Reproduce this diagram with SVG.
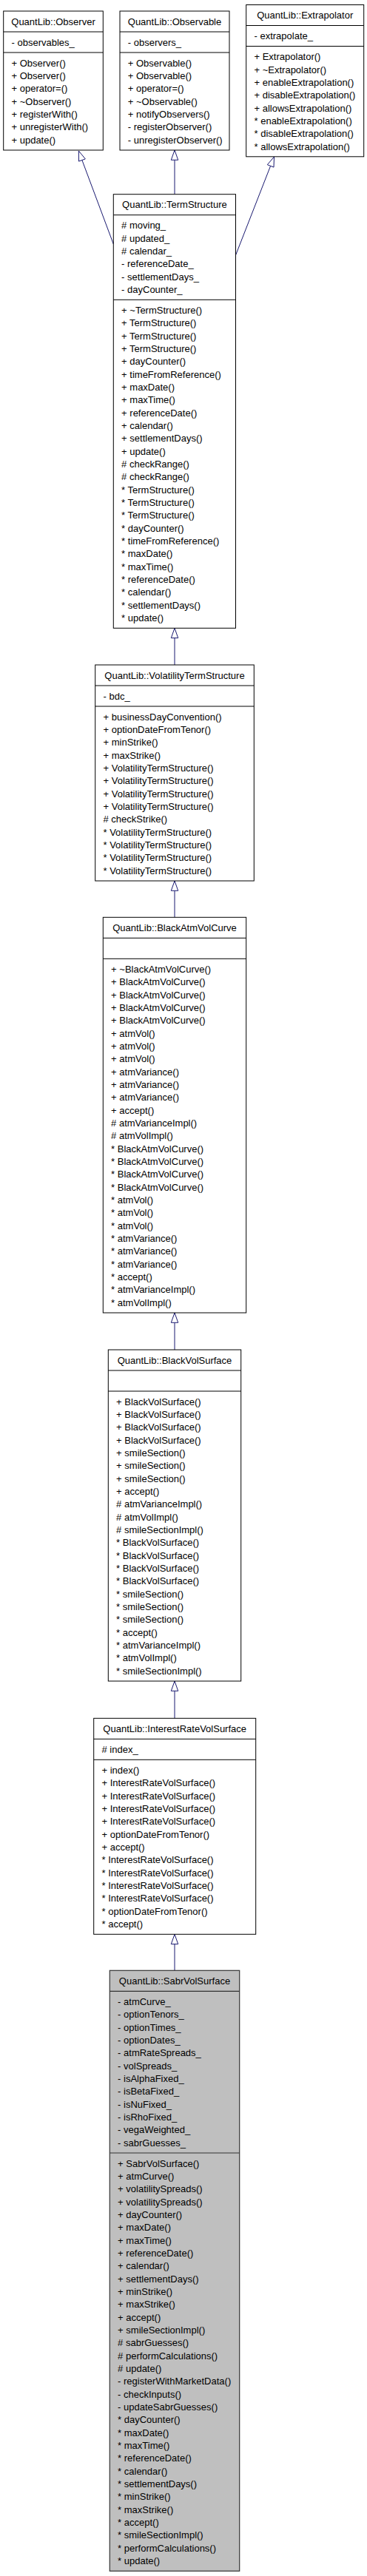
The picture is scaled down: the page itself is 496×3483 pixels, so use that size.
<svg xmlns="http://www.w3.org/2000/svg" width="496" height="3483" viewBox="0 0 496 3483">
<style>
text{font-family:"Liberation Sans",Arial,Helvetica,sans-serif;font-size:13px;fill:#000}
.t{text-anchor:middle}
.box{fill:#fff;stroke:#000;stroke-width:1}
.cur{fill:#bfbfbf;stroke:#333;stroke-width:1.2}
.sep{stroke:#000;stroke-width:1}
.sepc{stroke:#333;stroke-width:1.2}
.edge{stroke:#191970;stroke-width:1;fill:none}
.head{fill:#fff;stroke:#191970;stroke-width:1}
</style>
<rect width="496" height="3483" fill="#fff"/>
<g id="connectors">
<line class="edge" x1="110.9" y1="216.5" x2="153.3" y2="330"/>
<polygon class="head" points="106.3,204 115.3,214.9 106.5,218.1"/>
<line class="edge" x1="236" y1="216.3" x2="236" y2="262.7"/>
<polygon class="head" points="236,203 240.7,216.3 231.3,216.3"/>
<line class="edge" x1="365.6" y1="224.4" x2="318.5" y2="345"/>
<polygon class="head" points="370.5,212 370,226.1 361.3,222.7"/>
<line class="edge" x1="236" y1="862.6" x2="236" y2="899"/>
<polygon class="head" points="236,849.3 240.7,862.6 231.3,862.6"/>
<line class="edge" x1="236" y1="1204.3" x2="236" y2="1240.3"/>
<polygon class="head" points="236,1191 240.7,1204.3 231.3,1204.3"/>
<line class="edge" x1="236" y1="1788.3" x2="236" y2="1825"/>
<polygon class="head" points="236,1775 240.7,1788.3 231.3,1788.3"/>
<line class="edge" x1="236" y1="2286.3" x2="236" y2="2323.3"/>
<polygon class="head" points="236,2273 240.7,2286.3 231.3,2286.3"/>
<line class="edge" x1="236" y1="2628.6" x2="236" y2="2664.3"/>
<polygon class="head" points="236,2615.3 240.7,2628.6 231.3,2628.6"/>
</g>
<g id="Observer">
<rect class="box" x="4.7" y="15" width="134.6" height="188"/>
<line class="sep" x1="4.7" y1="43" x2="139.3" y2="43"/>
<line class="sep" x1="4.7" y1="71" x2="139.3" y2="71"/>
<text class="t" x="72" y="33.7">QuantLib::Observer</text>
<text x="15.5" y="61.7">- observables_</text>
<text x="15.5" y="89.7"><tspan x="15.5" dy="0">+ Observer()</tspan><tspan x="15.5" dy="17.333">+ Observer()</tspan><tspan x="15.5" dy="17.333">+ operator=()</tspan><tspan x="15.5" dy="17.333">+ ~Observer()</tspan><tspan x="15.5" dy="17.333">+ registerWith()</tspan><tspan x="15.5" dy="17.333">+ unregisterWith()</tspan><tspan x="15.5" dy="17.333">+ update()</tspan></text>
</g>
<g id="Observable">
<rect class="box" x="162" y="15" width="148" height="188"/>
<line class="sep" x1="162" y1="43" x2="310" y2="43"/>
<line class="sep" x1="162" y1="71" x2="310" y2="71"/>
<text class="t" x="236" y="33.7">QuantLib::Observable</text>
<text x="172.8" y="61.7">- observers_</text>
<text x="172.8" y="89.7"><tspan x="172.8" dy="0">+ Observable()</tspan><tspan x="172.8" dy="17.333">+ Observable()</tspan><tspan x="172.8" dy="17.333">+ operator=()</tspan><tspan x="172.8" dy="17.333">+ ~Observable()</tspan><tspan x="172.8" dy="17.333">+ notifyObservers()</tspan><tspan x="172.8" dy="17.333">- registerObserver()</tspan><tspan x="172.8" dy="17.333">- unregisterObserver()</tspan></text>
</g>
<g id="Extrapolator">
<rect class="box" x="332.7" y="6.5" width="159" height="205.3"/>
<line class="sep" x1="332.7" y1="34.5" x2="491.7" y2="34.5"/>
<line class="sep" x1="332.7" y1="62.5" x2="491.7" y2="62.5"/>
<text class="t" x="412.2" y="25.2">QuantLib::Extrapolator</text>
<text x="343.5" y="53.2">- extrapolate_</text>
<text x="343.5" y="81.2"><tspan x="343.5" dy="0">+ Extrapolator()</tspan><tspan x="343.5" dy="17.333">+ ~Extrapolator()</tspan><tspan x="343.5" dy="17.333">+ enableExtrapolation()</tspan><tspan x="343.5" dy="17.333">+ disableExtrapolation()</tspan><tspan x="343.5" dy="17.333">+ allowsExtrapolation()</tspan><tspan x="343.5" dy="17.333">* enableExtrapolation()</tspan><tspan x="343.5" dy="17.333">* disableExtrapolation()</tspan><tspan x="343.5" dy="17.333">* allowsExtrapolation()</tspan></text>
</g>
<g id="TermStructure">
<rect class="box" x="153.3" y="262.7" width="165.2" height="586.6"/>
<line class="sep" x1="153.3" y1="290.7" x2="318.5" y2="290.7"/>
<line class="sep" x1="153.3" y1="405.3" x2="318.5" y2="405.3"/>
<text class="t" x="235.9" y="281.4">QuantLib::TermStructure</text>
<text x="164.1" y="309.4"><tspan x="164.1" dy="0"># moving_</tspan><tspan x="164.1" dy="17.333"># updated_</tspan><tspan x="164.1" dy="17.333"># calendar_</tspan><tspan x="164.1" dy="17.333">- referenceDate_</tspan><tspan x="164.1" dy="17.333">- settlementDays_</tspan><tspan x="164.1" dy="17.333">- dayCounter_</tspan></text>
<text x="164.1" y="424"><tspan x="164.1" dy="0">+ ~TermStructure()</tspan><tspan x="164.1" dy="17.333">+ TermStructure()</tspan><tspan x="164.1" dy="17.333">+ TermStructure()</tspan><tspan x="164.1" dy="17.333">+ TermStructure()</tspan><tspan x="164.1" dy="17.333">+ dayCounter()</tspan><tspan x="164.1" dy="17.333">+ timeFromReference()</tspan><tspan x="164.1" dy="17.333">+ maxDate()</tspan><tspan x="164.1" dy="17.333">+ maxTime()</tspan><tspan x="164.1" dy="17.333">+ referenceDate()</tspan><tspan x="164.1" dy="17.333">+ calendar()</tspan><tspan x="164.1" dy="17.333">+ settlementDays()</tspan><tspan x="164.1" dy="17.333">+ update()</tspan><tspan x="164.1" dy="17.333"># checkRange()</tspan><tspan x="164.1" dy="17.333"># checkRange()</tspan><tspan x="164.1" dy="17.333">* TermStructure()</tspan><tspan x="164.1" dy="17.333">* TermStructure()</tspan><tspan x="164.1" dy="17.333">* TermStructure()</tspan><tspan x="164.1" dy="17.333">* dayCounter()</tspan><tspan x="164.1" dy="17.333">* timeFromReference()</tspan><tspan x="164.1" dy="17.333">* maxDate()</tspan><tspan x="164.1" dy="17.333">* maxTime()</tspan><tspan x="164.1" dy="17.333">* referenceDate()</tspan><tspan x="164.1" dy="17.333">* calendar()</tspan><tspan x="164.1" dy="17.333">* settlementDays()</tspan><tspan x="164.1" dy="17.333">* update()</tspan></text>
</g>
<g id="VolatilityTermStructure">
<rect class="box" x="128.7" y="899" width="214.6" height="292"/>
<line class="sep" x1="128.7" y1="927" x2="343.3" y2="927"/>
<line class="sep" x1="128.7" y1="955" x2="343.3" y2="955"/>
<text class="t" x="236" y="917.7">QuantLib::VolatilityTermStructure</text>
<text x="139.5" y="945.7">- bdc_</text>
<text x="139.5" y="973.7"><tspan x="139.5" dy="0">+ businessDayConvention()</tspan><tspan x="139.5" dy="17.333">+ optionDateFromTenor()</tspan><tspan x="139.5" dy="17.333">+ minStrike()</tspan><tspan x="139.5" dy="17.333">+ maxStrike()</tspan><tspan x="139.5" dy="17.333">+ VolatilityTermStructure()</tspan><tspan x="139.5" dy="17.333">+ VolatilityTermStructure()</tspan><tspan x="139.5" dy="17.333">+ VolatilityTermStructure()</tspan><tspan x="139.5" dy="17.333">+ VolatilityTermStructure()</tspan><tspan x="139.5" dy="17.333"># checkStrike()</tspan><tspan x="139.5" dy="17.333">* VolatilityTermStructure()</tspan><tspan x="139.5" dy="17.333">* VolatilityTermStructure()</tspan><tspan x="139.5" dy="17.333">* VolatilityTermStructure()</tspan><tspan x="139.5" dy="17.333">* VolatilityTermStructure()</tspan></text>
</g>
<g id="BlackAtmVolCurve">
<rect class="box" x="139.3" y="1240.3" width="193.4" height="534.7"/>
<line class="sep" x1="139.3" y1="1268.3" x2="332.7" y2="1268.3"/>
<line class="sep" x1="139.3" y1="1296.3" x2="332.7" y2="1296.3"/>
<text class="t" x="236" y="1259">QuantLib::BlackAtmVolCurve</text>
<text x="150.1" y="1315"><tspan x="150.1" dy="0">+ ~BlackAtmVolCurve()</tspan><tspan x="150.1" dy="17.333">+ BlackAtmVolCurve()</tspan><tspan x="150.1" dy="17.333">+ BlackAtmVolCurve()</tspan><tspan x="150.1" dy="17.333">+ BlackAtmVolCurve()</tspan><tspan x="150.1" dy="17.333">+ BlackAtmVolCurve()</tspan><tspan x="150.1" dy="17.333">+ atmVol()</tspan><tspan x="150.1" dy="17.333">+ atmVol()</tspan><tspan x="150.1" dy="17.333">+ atmVol()</tspan><tspan x="150.1" dy="17.333">+ atmVariance()</tspan><tspan x="150.1" dy="17.333">+ atmVariance()</tspan><tspan x="150.1" dy="17.333">+ atmVariance()</tspan><tspan x="150.1" dy="17.333">+ accept()</tspan><tspan x="150.1" dy="17.333"># atmVarianceImpl()</tspan><tspan x="150.1" dy="17.333"># atmVolImpl()</tspan><tspan x="150.1" dy="17.333">* BlackAtmVolCurve()</tspan><tspan x="150.1" dy="17.333">* BlackAtmVolCurve()</tspan><tspan x="150.1" dy="17.333">* BlackAtmVolCurve()</tspan><tspan x="150.1" dy="17.333">* BlackAtmVolCurve()</tspan><tspan x="150.1" dy="17.333">* atmVol()</tspan><tspan x="150.1" dy="17.333">* atmVol()</tspan><tspan x="150.1" dy="17.333">* atmVol()</tspan><tspan x="150.1" dy="17.333">* atmVariance()</tspan><tspan x="150.1" dy="17.333">* atmVariance()</tspan><tspan x="150.1" dy="17.333">* atmVariance()</tspan><tspan x="150.1" dy="17.333">* accept()</tspan><tspan x="150.1" dy="17.333">* atmVarianceImpl()</tspan><tspan x="150.1" dy="17.333">* atmVolImpl()</tspan></text>
</g>
<g id="BlackVolSurface">
<rect class="box" x="146.3" y="1825" width="179.4" height="448"/>
<line class="sep" x1="146.3" y1="1853" x2="325.7" y2="1853"/>
<line class="sep" x1="146.3" y1="1881" x2="325.7" y2="1881"/>
<text class="t" x="236" y="1843.7">QuantLib::BlackVolSurface</text>
<text x="157.1" y="1899.7"><tspan x="157.1" dy="0">+ BlackVolSurface()</tspan><tspan x="157.1" dy="17.333">+ BlackVolSurface()</tspan><tspan x="157.1" dy="17.333">+ BlackVolSurface()</tspan><tspan x="157.1" dy="17.333">+ BlackVolSurface()</tspan><tspan x="157.1" dy="17.333">+ smileSection()</tspan><tspan x="157.1" dy="17.333">+ smileSection()</tspan><tspan x="157.1" dy="17.333">+ smileSection()</tspan><tspan x="157.1" dy="17.333">+ accept()</tspan><tspan x="157.1" dy="17.333"># atmVarianceImpl()</tspan><tspan x="157.1" dy="17.333"># atmVolImpl()</tspan><tspan x="157.1" dy="17.333"># smileSectionImpl()</tspan><tspan x="157.1" dy="17.333">* BlackVolSurface()</tspan><tspan x="157.1" dy="17.333">* BlackVolSurface()</tspan><tspan x="157.1" dy="17.333">* BlackVolSurface()</tspan><tspan x="157.1" dy="17.333">* BlackVolSurface()</tspan><tspan x="157.1" dy="17.333">* smileSection()</tspan><tspan x="157.1" dy="17.333">* smileSection()</tspan><tspan x="157.1" dy="17.333">* smileSection()</tspan><tspan x="157.1" dy="17.333">* accept()</tspan><tspan x="157.1" dy="17.333">* atmVarianceImpl()</tspan><tspan x="157.1" dy="17.333">* atmVolImpl()</tspan><tspan x="157.1" dy="17.333">* smileSectionImpl()</tspan></text>
</g>
<g id="InterestRateVolSurface">
<rect class="box" x="126.7" y="2323.3" width="219" height="292"/>
<line class="sep" x1="126.7" y1="2351.3" x2="345.7" y2="2351.3"/>
<line class="sep" x1="126.7" y1="2379.3" x2="345.7" y2="2379.3"/>
<text class="t" x="236.2" y="2342">QuantLib::InterestRateVolSurface</text>
<text x="137.5" y="2370"># index_</text>
<text x="137.5" y="2398"><tspan x="137.5" dy="0">+ index()</tspan><tspan x="137.5" dy="17.333">+ InterestRateVolSurface()</tspan><tspan x="137.5" dy="17.333">+ InterestRateVolSurface()</tspan><tspan x="137.5" dy="17.333">+ InterestRateVolSurface()</tspan><tspan x="137.5" dy="17.333">+ InterestRateVolSurface()</tspan><tspan x="137.5" dy="17.333">+ optionDateFromTenor()</tspan><tspan x="137.5" dy="17.333">+ accept()</tspan><tspan x="137.5" dy="17.333">* InterestRateVolSurface()</tspan><tspan x="137.5" dy="17.333">* InterestRateVolSurface()</tspan><tspan x="137.5" dy="17.333">* InterestRateVolSurface()</tspan><tspan x="137.5" dy="17.333">* InterestRateVolSurface()</tspan><tspan x="137.5" dy="17.333">* optionDateFromTenor()</tspan><tspan x="137.5" dy="17.333">* accept()</tspan></text>
</g>
<g id="SabrVolSurface">
<rect class="cur" x="148.3" y="2664.3" width="175.4" height="812"/>
<line class="sepc" x1="148.3" y1="2692.3" x2="323.7" y2="2692.3"/>
<line class="sepc" x1="148.3" y1="2911" x2="323.7" y2="2911"/>
<text class="t" x="236" y="2683">QuantLib::SabrVolSurface</text>
<text x="159.1" y="2711"><tspan x="159.1" dy="0">- atmCurve_</tspan><tspan x="159.1" dy="17.333">- optionTenors_</tspan><tspan x="159.1" dy="17.333">- optionTimes_</tspan><tspan x="159.1" dy="17.333">- optionDates_</tspan><tspan x="159.1" dy="17.333">- atmRateSpreads_</tspan><tspan x="159.1" dy="17.333">- volSpreads_</tspan><tspan x="159.1" dy="17.333">- isAlphaFixed_</tspan><tspan x="159.1" dy="17.333">- isBetaFixed_</tspan><tspan x="159.1" dy="17.333">- isNuFixed_</tspan><tspan x="159.1" dy="17.333">- isRhoFixed_</tspan><tspan x="159.1" dy="17.333">- vegaWeighted_</tspan><tspan x="159.1" dy="17.333">- sabrGuesses_</tspan></text>
<text x="159.1" y="2929.7"><tspan x="159.1" dy="0">+ SabrVolSurface()</tspan><tspan x="159.1" dy="17.333">+ atmCurve()</tspan><tspan x="159.1" dy="17.333">+ volatilitySpreads()</tspan><tspan x="159.1" dy="17.333">+ volatilitySpreads()</tspan><tspan x="159.1" dy="17.333">+ dayCounter()</tspan><tspan x="159.1" dy="17.333">+ maxDate()</tspan><tspan x="159.1" dy="17.333">+ maxTime()</tspan><tspan x="159.1" dy="17.333">+ referenceDate()</tspan><tspan x="159.1" dy="17.333">+ calendar()</tspan><tspan x="159.1" dy="17.333">+ settlementDays()</tspan><tspan x="159.1" dy="17.333">+ minStrike()</tspan><tspan x="159.1" dy="17.333">+ maxStrike()</tspan><tspan x="159.1" dy="17.333">+ accept()</tspan><tspan x="159.1" dy="17.333">+ smileSectionImpl()</tspan><tspan x="159.1" dy="17.333"># sabrGuesses()</tspan><tspan x="159.1" dy="17.333"># performCalculations()</tspan><tspan x="159.1" dy="17.333"># update()</tspan><tspan x="159.1" dy="17.333">- registerWithMarketData()</tspan><tspan x="159.1" dy="17.333">- checkInputs()</tspan><tspan x="159.1" dy="17.333">- updateSabrGuesses()</tspan><tspan x="159.1" dy="17.333">* dayCounter()</tspan><tspan x="159.1" dy="17.333">* maxDate()</tspan><tspan x="159.1" dy="17.333">* maxTime()</tspan><tspan x="159.1" dy="17.333">* referenceDate()</tspan><tspan x="159.1" dy="17.333">* calendar()</tspan><tspan x="159.1" dy="17.333">* settlementDays()</tspan><tspan x="159.1" dy="17.333">* minStrike()</tspan><tspan x="159.1" dy="17.333">* maxStrike()</tspan><tspan x="159.1" dy="17.333">* accept()</tspan><tspan x="159.1" dy="17.333">* smileSectionImpl()</tspan><tspan x="159.1" dy="17.333">* performCalculations()</tspan><tspan x="159.1" dy="17.333">* update()</tspan></text>
</g>
</svg>
